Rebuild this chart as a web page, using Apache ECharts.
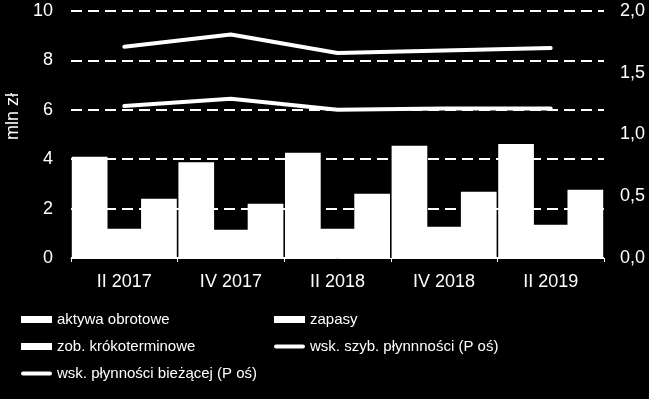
<!DOCTYPE html>
<html>
<head>
<meta charset="utf-8">
<script src="https://cdn.jsdelivr.net/npm/echarts@6/dist/echarts.min.js"></script>
<style>
  html, body { margin: 0; padding: 0; background: #000; }
  #chart { width: 649px; height: 399px; }
</style>
</head>
<body>
<div id="chart"></div>
<script>
const categories = ['II 2017', 'IV 2017', 'II 2018', 'IV 2018', 'II 2019']
const aktywa = [4.1, 3.88, 4.26, 4.54, 4.62]
const zapasy = [1.18, 1.14, 1.18, 1.27, 1.35]
const zobowiazania = [2.4, 2.2, 2.6, 2.68, 2.76]
const wskSzybka = [1.23, 1.29, 1.2, 1.21, 1.21]
const wskBiezaca = [1.71, 1.81, 1.66, 1.68, 1.7]

const font = 'Liberation Sans'
const white = '#fff'
// rounded line used as legend icon for the two ratio series
const lineIcon = 'path://M2,0 L29,0 A2,2 0 0 1 29,4 L2,4 A2,2 0 0 1 2,0 Z'

const chart = echarts.init(document.getElementById('chart'))

const barSeries = (name, data) => ({
  name,
  type: 'bar',
  yAxisIndex: 0,
  data,
  barGap: '-3%',
  barCategoryGap: '1.5%',
  itemStyle: { color: white },
  z: 3
})

const lineSeries = (name, data) => ({
  name,
  type: 'line',
  yAxisIndex: 1,
  data,
  symbol: 'none',
  lineStyle: { color: white, width: 4, cap: 'round', join: 'round' },
  itemStyle: { color: white },
  z: 4
})

const legendText = { color: white, fontFamily: font, fontSize: 15 }

const option = {
  backgroundColor: '#000',
  animation: false,
  grid: { left: 71, right: 45, top: 11, bottom: 141, outerBoundsMode: 'none' },
  legend: [
    {
      orient: 'vertical',
      left: 21,
      top: 312,
      padding: 0,
      itemWidth: 31,
      itemHeight: 7,
      itemGap: 12,
      textStyle: legendText,
      data: [
        { name: 'aktywa obrotowe', icon: 'rect' },
        { name: 'zob. krókoterminowe', icon: 'rect' },
        { name: 'wsk. płynności bieżącej (P oś)', icon: lineIcon }
      ]
    },
    {
      orient: 'vertical',
      left: 274,
      top: 312,
      padding: 0,
      itemWidth: 31,
      itemHeight: 7,
      itemGap: 12,
      textStyle: legendText,
      data: [
        { name: 'zapasy', icon: 'rect' },
        { name: 'wsk. szyb. płynnności (P oś)', icon: lineIcon }
      ]
    }
  ],
  xAxis: {
    type: 'category',
    data: categories,
    axisLine: { show: true, lineStyle: { color: white, width: 1 } },
    axisTick: { show: true, length: 4, lineStyle: { color: white } },
    axisLabel: { color: white, fontFamily: font, fontSize: 18, margin: 15 }
  },
  yAxis: [
    {
      type: 'value',
      min: 0,
      max: 10,
      interval: 2,
      name: 'mln zł',
      nameLocation: 'middle',
      nameGap: 46,
      nameRotate: 90,
      nameTextStyle: { color: white, fontFamily: font, fontSize: 18, padding: [0, 0, 0, 36] },
      axisLine: { show: false },
      axisTick: { show: false },
      axisLabel: { color: white, fontFamily: font, fontSize: 18, margin: 18 },
      splitLine: { lineStyle: { color: white, width: 2, type: [11, 6] } }
    },
    {
      type: 'value',
      min: 0,
      max: 2,
      interval: 0.5,
      axisLine: { show: false },
      axisTick: { show: false },
      axisLabel: {
        color: white,
        fontFamily: font,
        fontSize: 18,
        margin: 16,
        formatter: v => v.toFixed(1).replace('.', ',')
      },
      splitLine: { show: false }
    }
  ],
  series: [
    barSeries('aktywa obrotowe', aktywa),
    barSeries('zapasy', zapasy),
    barSeries('zob. krókoterminowe', zobowiazania),
    lineSeries('wsk. szyb. płynnności (P oś)', wskSzybka),
    lineSeries('wsk. płynności bieżącej (P oś)', wskBiezaca)
  ]
}

chart.setOption(option)
</script>
</body>
</html>
